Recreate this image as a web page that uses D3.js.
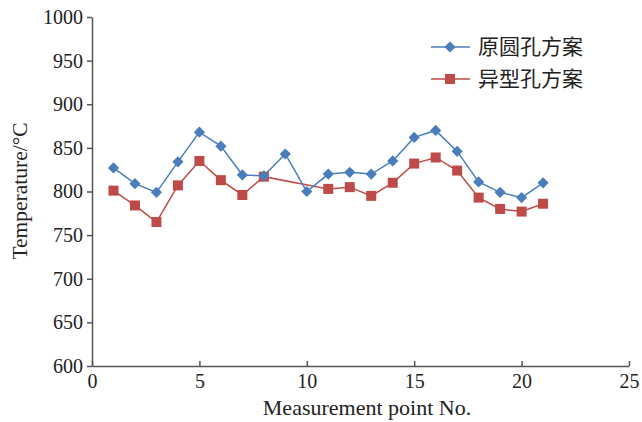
<!DOCTYPE html>
<html><head><meta charset="utf-8">
<script src="https://cdn.jsdelivr.net/npm/d3@7"></script>
<style>
body{margin:0;background:#fff}svg{display:block}
svg text.serif, .tick text{font-family:"Liberation Serif","Times New Roman",serif !important;}
</style>
</head><body><svg id="c" width="642" height="422"></svg>
<script>
const seriesNames = ["原圆孔方案", "异型孔方案"];
const xRound = [1,2,3,4,5,6,7,8,9,10,11,12,13,14,15,16,17,18,19,20,21];
const yRound = [827,809,799,834,868,852,819,818,843,800,820,822,820,835,862,870,846,811,799,793,810];
const xShaped = [1,2,3,4,5,6,7,8,11,12,13,14,15,16,17,18,19,20,21];
const yShaped = [801,784,765,807,835,813,796,817,803,805,795,810,832,839,824,793,780,777,786];
const xTicks = [0,5,10,15,20,25];
const yTicks = [600,650,700,750,800,850,900,950,1000];

const svg = d3.select("#c");
const cjk = "Liberation Serif, Noto Sans CJK SC, serif";
const x = d3.scaleLinear().domain([0,25]).range([92,629]);
const y = d3.scaleLinear().domain([600,1000]).range([366,17]);

const gx = svg.append("g").attr("transform","translate(0,366)")
  .call(d3.axisBottom(x).tickValues(xTicks).tickFormat(d3.format("d")).tickSizeInner(-5).tickSizeOuter(0).tickPadding(10));
const gy = svg.append("g").attr("transform","translate(92,0)")
  .call(d3.axisLeft(y).tickValues(yTicks).tickFormat(d3.format("d")).tickSizeInner(5).tickSizeOuter(0).tickPadding(4));
for (const g of [gx, gy]) {
  g.attr("font-family", null).attr("font-size", null);
  g.selectAll("path,line").attr("stroke","#555").attr("stroke-width",1.5);
  g.selectAll("text").attr("class","serif").style("font-size","20px").attr("fill","#222");
}
gx.selectAll("text").attr("dy","0.6em");

svg.append("text").attr("class","serif").attr("x",367).attr("y",415).attr("text-anchor","middle")
  .style("font-size","22px").attr("fill","#222").text("Measurement point No.");
svg.append("text").attr("class","serif").attr("transform","translate(27,191) rotate(-90)").attr("text-anchor","middle")
  .style("font-size","21.5px").attr("fill","#222").text("Temperature/°C");

const blue="#4a7ebb", red="#be4b48";
const line = d3.line().x(d=>x(d[0])).y(d=>y(d[1]));
const dRound = xRound.map((v,i)=>[v,yRound[i]]);
const dShaped = xShaped.map((v,i)=>[v,yShaped[i]]);

svg.append("path").datum(dShaped).attr("d",line).attr("fill","none").attr("stroke",red).attr("stroke-width",1.5);
svg.append("path").datum(dRound).attr("d",line).attr("fill","none").attr("stroke",blue).attr("stroke-width",1.5);

const diamond = d3.symbol().type(d3.symbolDiamond2).size(80);
svg.selectAll(".sq").data(dShaped).join("rect")
  .attr("x",d=>x(d[0])-5).attr("y",d=>y(d[1])-5).attr("width",10).attr("height",10).attr("fill",red);
svg.selectAll(".dm").data(dRound).join("path")
  .attr("d",diamond).attr("transform",d=>`translate(${x(d[0])},${y(d[1])})`).attr("fill",blue);

// legend
const lg = [{c:blue,t:seriesNames[0],m:"d",yy:47},{c:red,t:seriesNames[1],m:"s",yy:79}];
lg.forEach(l=>{
  svg.append("line").attr("x1",431).attr("x2",470).attr("y1",l.yy).attr("y2",l.yy).attr("stroke",l.c).attr("stroke-width",1.5);
  if(l.m==="d") svg.append("path").attr("d",diamond).attr("transform",`translate(450,${l.yy})`).attr("fill",l.c);
  else svg.append("rect").attr("x",445).attr("y",l.yy-5).attr("width",10).attr("height",10).attr("fill",l.c);
  svg.append("text").attr("x",478).attr("y",l.yy).attr("dy","0.35em").style("font-family",cjk).style("font-size","21px").attr("fill","#222").text(l.t);
});
</script></body></html>
